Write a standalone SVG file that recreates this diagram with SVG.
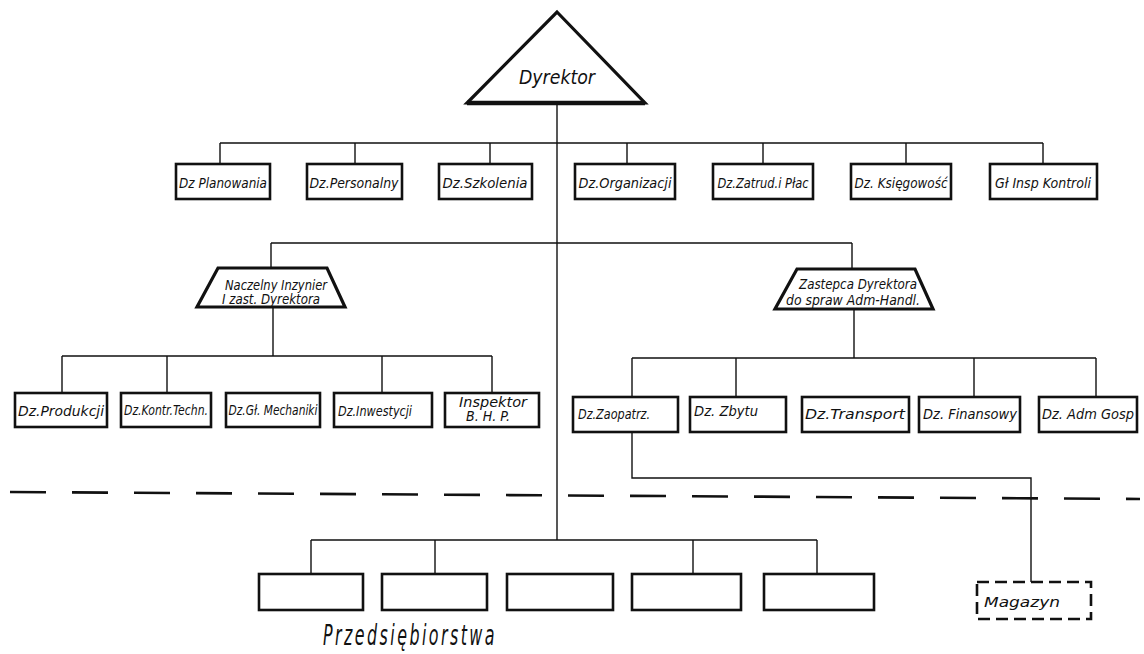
<svg xmlns="http://www.w3.org/2000/svg" width="1144" height="654" viewBox="0 0 1144 654">
<style>
.bg{fill:#fff}
.box{fill:#fff;stroke:#111;stroke-width:2.6}
.shape{fill:#fff;stroke:#111;stroke-width:3.2;stroke-linejoin:miter}
.dbox{fill:#fff;stroke:#111;stroke-width:2.6;stroke-dasharray:12 6}
.con{fill:none;stroke:#111;stroke-width:1.4}
.sep{fill:none;stroke:#111;stroke-width:2.6;stroke-dasharray:36 26}
text{font-family:"DejaVu Sans Condensed","DejaVu Sans",sans-serif;font-style:oblique;fill:#111}
.t{font-size:14.5px}
.tl{font-size:19px}
.big{font-size:29px;letter-spacing:4px}
</style>
<rect class="bg" x="0" y="0" width="1144" height="654"/>
<g id="connectors">
<path class="con" d="M557 103 V540"/>
<path class="con" d="M220 143 H1043 M220 143 V164 M355 143 V164 M490 143 V164 M627 143 V164 M763 143 V164 M906 143 V164 M1043 143 V164"/>
<path class="con" d="M271 243 H852 M271 243 V268 M852 243 V269"/>
<path class="con" d="M273 307 V356 M62 356 H492 M62 356 V393 M167 356 V393 M382 356 V393 M492 356 V393"/>
<path class="con" d="M854 309 V358 M632 358 H1096 M632 358 V397 M736 358 V397 M974 358 V397 M1096 358 V397"/>
<path class="con" d="M632 432 V478 H1031 V582"/>
<path class="con" d="M311 540 H817 M311 540 V574 M435 540 V574 M693 540 V574 M817 540 V574"/>
<path class="sep" d="M10 492 L1140 499"/>
</g>
<g id="dyrektor">
<polygon class="shape" points="557,12 645,103 467,103"/>
<line x1="467" y1="103" x2="645" y2="103" stroke="#111" stroke-width="4.5"/>
<text class="tl" x="557" y="84" text-anchor="middle" textLength="76" lengthAdjust="spacingAndGlyphs">Dyrektor</text>
</g>
<g id="dz-planowania"><rect class="box" x="176" y="164" width="94" height="35"/><text class="t" x="223" y="188" text-anchor="middle" textLength="88" lengthAdjust="spacingAndGlyphs">Dz Planowania</text></g>
<g id="dz-personalny"><rect class="box" x="307" y="164" width="95" height="35"/><text class="t" x="354" y="188" text-anchor="middle" textLength="89" lengthAdjust="spacingAndGlyphs">Dz.Personalny</text></g>
<g id="dz-szkolenia"><rect class="box" x="439" y="164" width="93" height="35"/><text class="t" x="485" y="188" text-anchor="middle" textLength="85" lengthAdjust="spacingAndGlyphs">Dz.Szkolenia</text></g>
<g id="dz-organizacji"><rect class="box" x="575" y="164" width="100" height="35"/><text class="t" x="625" y="188" text-anchor="middle" textLength="93" lengthAdjust="spacingAndGlyphs">Dz.Organizacji</text></g>
<g id="dz-zatrud"><rect class="box" x="713" y="164" width="100" height="35"/><text class="t" x="763" y="188" text-anchor="middle" textLength="91" lengthAdjust="spacingAndGlyphs">Dz.Zatrud.i Płac</text></g>
<g id="dz-ksiegowosc"><rect class="box" x="851" y="164" width="100" height="35"/><text class="t" x="901" y="188" text-anchor="middle" textLength="93" lengthAdjust="spacingAndGlyphs">Dz. Księgowość</text></g>
<g id="gl-insp-kontroli"><rect class="box" x="990" y="164" width="107" height="35"/><text class="t" x="1043" y="188" text-anchor="middle" textLength="96" lengthAdjust="spacingAndGlyphs">Gł Insp Kontroli</text></g>
<g id="naczelny-inzynier">
<polygon class="shape" points="218,268 327,268 345,307 197,307"/>
<text class="t" x="276" y="290" text-anchor="middle" textLength="102" lengthAdjust="spacingAndGlyphs">Naczelny Inzynier</text>
<text class="t" x="271" y="304" text-anchor="middle" textLength="98" lengthAdjust="spacingAndGlyphs">I zast. Dyrektora</text>
</g>
<g id="zastepca-dyrektora">
<polygon class="shape" points="797,269 915,269 933,309 775,309"/>
<text class="t" x="858" y="289" text-anchor="middle" textLength="118" lengthAdjust="spacingAndGlyphs">Zastepca Dyrektora</text>
<text class="t" x="853" y="305" text-anchor="middle" textLength="134" lengthAdjust="spacingAndGlyphs">do spraw Adm-Handl.</text>
</g>
<g id="dz-produkcji"><rect class="box" x="15" y="393" width="92" height="34"/><text class="t" x="61" y="416" text-anchor="middle" textLength="86" lengthAdjust="spacingAndGlyphs">Dz.Produkcji</text></g>
<g id="dz-kontr-techn"><rect class="box" x="121" y="393" width="90" height="34"/><text class="t" x="166" y="415" text-anchor="middle" textLength="84" lengthAdjust="spacingAndGlyphs">Dz.Kontr.Techn.</text></g>
<g id="dz-gl-mechaniki"><rect class="box" x="226" y="393" width="94" height="34"/><text class="t" x="273" y="415" text-anchor="middle" textLength="89" lengthAdjust="spacingAndGlyphs">Dz.Gł. Mechaniki</text></g>
<g id="dz-inwestycji"><rect class="box" x="334" y="393" width="98" height="34"/><text class="t" x="338" y="416" textLength="74" lengthAdjust="spacingAndGlyphs">Dz.Inwestycji</text></g>
<g id="inspektor-bhp"><rect class="box" x="445" y="393" width="94" height="34"/><text class="t" x="493" y="407" text-anchor="middle" textLength="68" lengthAdjust="spacingAndGlyphs">Inspektor</text><text class="t" x="488" y="421" text-anchor="middle" textLength="44" lengthAdjust="spacingAndGlyphs">B. H. P.</text></g>
<g id="dz-zaopatrz"><rect class="box" x="573" y="397" width="105" height="35"/><text class="t" x="578" y="419" textLength="72" lengthAdjust="spacingAndGlyphs">Dz.Zaopatrz.</text></g>
<g id="dz-zbytu"><rect class="box" x="690" y="397" width="96" height="35"/><text class="t" x="694" y="416" textLength="64" lengthAdjust="spacingAndGlyphs">Dz. Zbytu</text></g>
<g id="dz-transport"><rect class="box" x="802" y="397" width="107" height="35"/><text class="t" x="855" y="419" text-anchor="middle" textLength="100" lengthAdjust="spacingAndGlyphs">Dz.Transport</text></g>
<g id="dz-finansowy"><rect class="box" x="919" y="397" width="101" height="35"/><text class="t" x="970" y="419" text-anchor="middle" textLength="94" lengthAdjust="spacingAndGlyphs">Dz. Finansowy</text></g>
<g id="dz-adm-gosp"><rect class="box" x="1039" y="397" width="98" height="35"/><text class="t" x="1088" y="419" text-anchor="middle" textLength="92" lengthAdjust="spacingAndGlyphs">Dz. Adm Gosp</text></g>
<g id="przedsiebiorstwo-1"><rect class="box" x="259" y="574" width="104" height="36"/></g>
<g id="przedsiebiorstwo-2"><rect class="box" x="382" y="574" width="105" height="36"/></g>
<g id="przedsiebiorstwo-3"><rect class="box" x="507" y="574" width="106" height="36"/></g>
<g id="przedsiebiorstwo-4"><rect class="box" x="632" y="574" width="109" height="36"/></g>
<g id="przedsiebiorstwo-5"><rect class="box" x="764" y="574" width="110" height="36"/></g>
<g id="magazyn"><rect class="dbox" x="977" y="582" width="114" height="37"/><text class="t" x="984" y="607" textLength="76" lengthAdjust="spacingAndGlyphs">Magazyn</text></g>
<g id="przedsiebiorstwa-label"><text class="big" x="410" y="645" text-anchor="middle" textLength="174" lengthAdjust="spacingAndGlyphs">Przedsiębiorstwa</text></g>
</svg>
